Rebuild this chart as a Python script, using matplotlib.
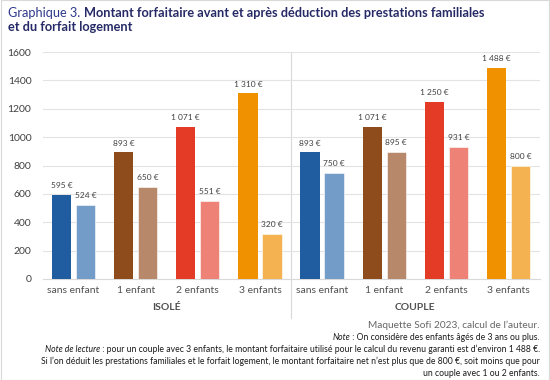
import matplotlib.pyplot as plt
from matplotlib.patches import Rectangle
import numpy as np

# --- DATA ---
categories = ["sans enfant", "1 enfant", "2 enfants", "3 enfants",
              "sans enfant", "1 enfant", "2 enfants", "3 enfants"]
groups = ["ISOLÉ", "COUPLE"]
avant = [595, 893, 1071, 1310, 893, 1071, 1250, 1488]
apres = [524, 650, 551, 320, 750, 895, 931, 800]
dark_colors = ["#1F5DA0", "#8E4B1C", "#E33B26", "#F09100"] * 2
light_colors = ["#739DC8", "#B7896A", "#EE8276", "#F5B251"] * 2

plt.rcParams['font.family'] = ["Lato", "DejaVu Sans"]


def fmt(v):
    s = f"{v:,}".replace(",", " ")
    return f"{s} €"


def italic_prefix(y, prefix, rest, size=6.2):
    # right-aligned line with an italic lead-in
    t = fig.text(540 / 550, 1 - y / 380, rest, fontsize=size, color="#1A1A1A",
                 ha="right", va="center")
    fig.canvas.draw()
    b = t.get_window_extent()
    fig.text(b.x0 / fig.bbox.width, 1 - y / 380, prefix, fontsize=size, style="italic",
             color="#1A1A1A", ha="right", va="center")


fig = plt.figure(figsize=(5.5, 3.8), dpi=100)
ax = fig.add_axes([42.5 / 550, 1 - 279 / 380, 497 / 550, 227 / 380])

x = np.arange(len(categories))
w = 0.31
off = 0.194
ax.bar(x - off, avant, w, color=dark_colors, zorder=3)
ax.bar(x + off, apres, w, color=light_colors, edgecolor="white", linewidth=0.4, zorder=3)

for xi, v in zip(x, avant):
    ax.annotate(fmt(v), (xi - off, v), xytext=(0, 4), textcoords="offset points",
                ha="center", va="bottom", fontsize=6, color="#404040")
for xi, v in zip(x, apres):
    ax.annotate(fmt(v), (xi + off, v), xytext=(0, 4), textcoords="offset points",
                ha="center", va="bottom", fontsize=6, color="#404040")

ax.set_xlim(-0.5, len(categories) - 0.5)
ax.set_ylim(0, 1600)
ax.set_yticks(range(0, 1601, 200))
ax.tick_params(axis="y", length=0, labelsize=7.5, labelcolor="#404040", pad=8)
ax.set_xticks(x)
ax.set_xticklabels(categories)
ax.tick_params(axis="x", length=0, labelsize=7.5, labelcolor="#505050", pad=5)
ax.grid(axis="y", color="#E3E3E3", linewidth=0.8, zorder=0)
for s in ["top", "right", "left"]:
    ax.spines[s].set_visible(False)
ax.spines["bottom"].set_color("#D9D9D9")

# group separator and group labels
ax.plot([3.5, 3.5], [-0.17, 1], transform=ax.get_xaxis_transform(),
        color="#D9D9D9", linewidth=0.8, clip_on=False, zorder=1)
for i, g in enumerate(groups):
    ax.text(1.5 + 4 * i, -0.125, g, transform=ax.get_xaxis_transform(),
            ha="center", va="center", fontsize=7.5, color="#505050", fontweight="bold")

# title
t1 = fig.text(8 / 550, 1 - 17 / 380, "Graphique 3. ", fontsize=9.2, color="#2E3A8C",
              ha="left", va="baseline")
fig.canvas.draw()
bb = t1.get_window_extent()
fig.text(bb.x1 / fig.bbox.width, 1 - 17 / 380,
         "Montant forfaitaire avant et après déduction des prestations familiales",
         fontsize=9.2, color="#262A66", fontweight="bold", ha="left", va="baseline")
fig.text(8 / 550, 1 - 31 / 380, "et du forfait logement", fontsize=9.2,
         color="#262A66", fontweight="bold", ha="left", va="baseline")

# source and notes
fig.text(540 / 550, 1 - 325 / 380, "Maquette Sofi 2023, calcul de l’auteur.",
         fontsize=7.3, color="#666666", ha="right", va="center")
italic_prefix(337, "Note", " : On considère des enfants âgés de 3 ans ou plus.")
italic_prefix(349, "Note de lecture",
              " : pour un couple avec 3 enfants, le montant forfaitaire utilisé pour le calcul du revenu garanti est d’environ 1 488 €.")
fig.text(540 / 550, 1 - 361 / 380,
         "Si l’on déduit les prestations familiales et le forfait logement, le montant forfaitaire net n’est plus que de 800 €, soit moins que pour",
         fontsize=6.2, color="#1A1A1A", ha="right", va="center")
fig.text(540 / 550, 1 - 373 / 380, "un couple avec 1 ou 2 enfants.",
         fontsize=6.2, color="#1A1A1A", ha="right", va="center")

fig.patches.append(Rectangle((0.001, 0.001), 0.998, 0.998, transform=fig.transFigure,
                             fill=False, edgecolor="#D9D9D9", linewidth=0.8))

fig.savefig("out.png", dpi=100)
